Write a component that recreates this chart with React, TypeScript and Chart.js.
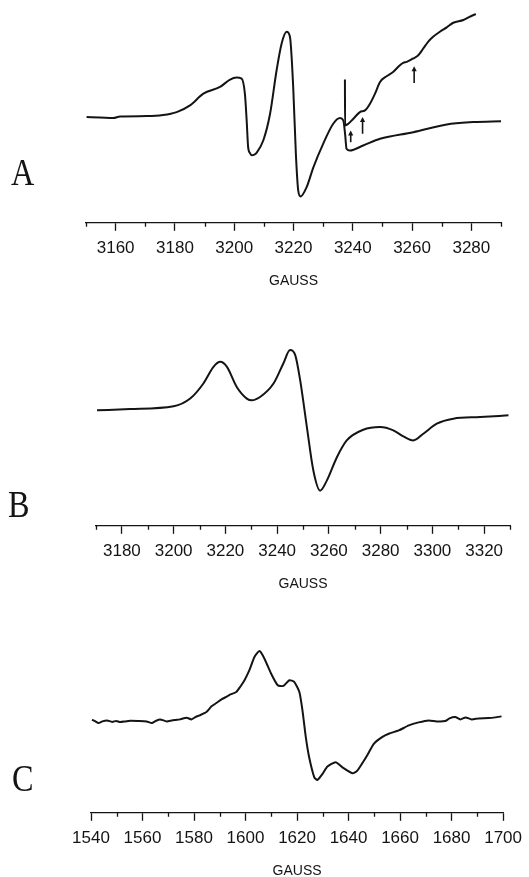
import React, { useEffect, useRef } from "react";
import { Chart, registerables } from "chart.js";

Chart.register(...registerables);

// ---------- Panel A ----------
const majorTicksA = [3160, 3180, 3200, 3220, 3240, 3260, 3280];
const minorTicksA = [3150, 3170, 3190, 3210, 3230, 3250, 3270, 3290];
const fieldA = [
  3150.2, 3154.7, 3159.2, 3161.5, 3170.5, 3176, 3180.6, 3185.1, 3189.6, 3195.2,
  3198.6, 3200.8, 3202.5, 3203.6, 3204.2, 3204.7, 3205.3, 3205.9, 3206.6, 3207.6,
  3209.8, 3212.1, 3214.3, 3216.0, 3217.7, 3218.8, 3219.9, 3220.8, 3221.6, 3222.4,
  3224.4, 3226.7, 3230.0, 3233.4, 3235.7, 3236.8, 3237.4, 3237.9, 3239.0, 3243.5,
  3249.2, 3260.4, 3271.7, 3280.6, 3290.2,
];
const signalA = [
  0.3, 0, -0.7, 1, 1.3, 2.3, 5.3, 12, 23.7, 30.3,
  37.7, 39.7, 38.7, 23.7, -3, -29.7, -35.5, -37.6, -37.3, -35,
  -23, 3.7, 47, 73.7, 85.3, 80.3, 30.3, -36.3, -73, -78.7,
  -69.7, -49.7, -26.3, -6.3, -0.7, -3, -16.3, -31.3, -33, -28,
  -21.3, -14.7, -7, -4.7, -3.7,
];
const fieldA2 = [
  3237.35, 3237.4, 3238.5, 3240.2, 3242.4, 3244.1, 3245.8, 3247.5, 3249.2, 3251.4,
  3253.6, 3255.9, 3257.0, 3258.2, 3260.4, 3262.1, 3263.8, 3265.4, 3267.1, 3269.4,
  3271.7, 3273.9, 3277.3, 3279.2, 3281.5,
];
const signalA2 = [
  37.7, -8, -6.3, -1.3, 5.3, 7, 13.7, 23.7, 35.3, 41,
  45.3, 52, 54.3, 55.3, 58.7, 62, 68.7, 75.3, 80.3, 85.3,
  89.7, 94.3, 97, 100, 103,
];
// arrow annotations: field, tail value, head value
const arrowFieldA = [3239.3, 3243.3, 3260.7];
const arrowTailA = [-24.7, -16.3, 34.3];
const arrowHeadA = [-13, 0.3, 51];

// ---------- Panel B ----------
const majorTicksB = [3180, 3200, 3220, 3240, 3260, 3280, 3300, 3320];
const minorTicksB = [3170, 3190, 3210, 3230, 3250, 3270, 3290, 3310, 3330];
const fieldB = [
  3170.4, 3183.2, 3200, 3206.4, 3211.5, 3215.4, 3218.0, 3220.6, 3224.4, 3228.3,
  3230.2, 3233.4, 3238.6, 3242.4, 3245.0, 3247.0, 3248.9, 3251.5, 3254.0, 3256.6,
  3259.2, 3263.1, 3266.9, 3273.3, 3279.8, 3284.9, 3288.8, 3292.6, 3296.5, 3301.7,
  3308.1, 3318.4, 3329.4,
];
const signalB = [
  0, 1.3, 4, 11.7, 26.7, 43.3, 48.3, 43.3, 23.3, 11.7,
  10, 13.3, 26.7, 46.7, 60, 55, 30, -16.7, -60, -80,
  -70, -46.7, -30, -19.3, -16.7, -20, -26, -30, -23.3, -13.3,
  -8.3, -6.7, -5,
];

// ---------- Panel C ----------
const majorTicksC = [1540, 1560, 1580, 1600, 1620, 1640, 1660, 1680, 1700];
const minorTicksC = [1550, 1570, 1590, 1610, 1630, 1650, 1670, 1690];
const fieldC = [
  1540.4, 1541.7, 1542.9, 1544.4, 1546.2, 1548.2, 1549.8, 1551.3, 1553.3, 1555.2,
  1558.3, 1561.6, 1563.6, 1565.2, 1566.8, 1569.4, 1571.4, 1573, 1574.5, 1577.1,
  1579.0, 1580.7, 1582.2, 1584.8, 1586.8, 1588.7, 1590.7, 1592.5, 1593.8, 1596.4,
  1598.1, 1599.6, 1601.5, 1603.5, 1605.4, 1607.3, 1609.9, 1612.5, 1614.7, 1617.0,
  1618.9, 1620.9, 1622.1, 1623.4, 1624.7, 1626.7, 1627.9, 1629.9, 1631.8, 1635.0,
  1637.6, 1641.5, 1643.4, 1646.0, 1647.2, 1649.8, 1653.0, 1655.6, 1659.5, 1663.4,
  1667.2, 1671.1, 1674.2, 1677.5, 1679.2, 1681.4, 1683.4, 1685.4, 1687.8, 1690.4,
  1694.3, 1697, 1699.4,
];
const signalC = [
  0.7, -1, -2.7, -1, 0, -1.5, -0.5, -1.7, -1, -0.3,
  -0.5, -1, -2.7, -0.5, 1, -1, 0, 0.5, 1, 2.7,
  1, 3.5, 5, 8.3, 14, 17.3, 21, 23.3, 25.5, 28.3,
  34, 40, 50, 63.3, 69, 61.7, 46.7, 35, 34.3, 40,
  38.3, 28.3, 10, -16.7, -36.7, -56.7, -59.3, -53.3, -46, -41.7,
  -46.7, -52.7, -50, -40, -35, -23.3, -16.7, -13.3, -10, -5,
  -2, 0, -1, -0.7, 2, 3.3, 1, 3, 1, 2,
  2.3, 3, 4,
];

const INK = "#141414";
const SANS = "'Liberation Sans', Arial, Helvetica, sans-serif";

type PanelDef = {
  top: number;
  height: number;
  padTop: number;
  padLeft: number;
  padRight: number;
  xMin: number;
  xMax: number;
  yMin: number;
  yMax: number;
  majors: number[];
  minors: number[];
  series: { x: number[]; y: number[]; mode: "monotone" | "default"; tension: number }[];
  arrows?: { x: number[]; tail: number[]; head: number[] };
};

function makeXY(x: number[], y: number[]) {
  return x.map((v, i) => ({ x: v, y: y[i] }));
}

const minorTickPlugin = {
  id: "minorTicks",
  afterDraw(chart: any, _args: any, opts: any) {
    const xs = chart.scales.x;
    const ctx = chart.ctx;
    ctx.save();
    ctx.strokeStyle = INK;
    ctx.lineWidth = 1.3;
    ctx.beginPath();
    (opts.values || []).forEach((v: number) => {
      const px = Math.round(xs.getPixelForValue(v)) + 0.5;
      ctx.moveTo(px, xs.top);
      ctx.lineTo(px, xs.top + 4);
    });
    ctx.stroke();

    const arrows = opts.arrows;
    if (arrows) {
      const ys = chart.scales.y;
      ctx.lineWidth = 1.6;
      ctx.fillStyle = INK;
      arrows.x.forEach((v: number, i: number) => {
        const px = xs.getPixelForValue(v);
        const pt = ys.getPixelForValue(arrows.tail[i]);
        const ph = ys.getPixelForValue(arrows.head[i]);
        ctx.beginPath();
        ctx.moveTo(px, pt);
        ctx.lineTo(px, ph + 3);
        ctx.stroke();
        ctx.beginPath();
        ctx.moveTo(px, ph);
        ctx.lineTo(px - 2.6, ph + 5);
        ctx.lineTo(px + 2.6, ph + 5);
        ctx.closePath();
        ctx.fill();
      });
    }
    ctx.restore();
  },
};

function Panel({ def }: { def: PanelDef }) {
  const ref = useRef<HTMLCanvasElement | null>(null);
  useEffect(() => {
    if (!ref.current) return;
    const majorSet = new Set(def.majors);
    const allTicks = [...def.majors, ...def.minors].sort((a, b) => a - b);
    const chart = new Chart(ref.current, {
      type: "line",
      data: {
        datasets: def.series.map((s) => ({
          data: makeXY(s.x, s.y),
          borderColor: INK,
          borderWidth: 2,
          pointRadius: 0,
          fill: false,
          tension: s.tension,
          cubicInterpolationMode: s.mode,
        })),
      },
      options: {
        animation: false,
        responsive: false,
        maintainAspectRatio: false,
        events: [],
        layout: {
          padding: { top: def.padTop, left: def.padLeft, right: def.padRight, bottom: 0 },
        },
        plugins: {
          legend: { display: false },
          tooltip: { enabled: false },
          minorTicks: { values: def.minors, arrows: def.arrows },
        } as any,
        scales: {
          x: {
            type: "linear",
            min: def.xMin,
            max: def.xMax,
            offset: false,
            afterBuildTicks: (scale: any) => {
              scale.ticks = allTicks.map((v) => ({ value: v }));
            },
            ticks: {
              autoSkip: false,
              maxRotation: 0,
              minRotation: 0,
              padding: 7,
              color: INK,
              font: { family: SANS, size: 17 },
              callback: (value: any) => (majorSet.has(Number(value)) ? String(value) : ""),
            },
            grid: {
              drawOnChartArea: false,
              drawTicks: true,
              tickLength: 8,
              tickWidth: 1.3,
              tickColor: (ctx: any) =>
                ctx.tick && majorSet.has(ctx.tick.value) ? INK : "rgba(0,0,0,0)",
            },
            border: { display: true, color: INK, width: 1.3 },
            title: {
              display: true,
              text: "GAUSS",
              color: INK,
              font: { family: SANS, size: 14 },
              padding: { top: 8, bottom: 0 },
            },
          },
          y: { display: false, min: def.yMin, max: def.yMax },
        },
      },
      plugins: [minorTickPlugin],
    } as any);
    return () => chart.destroy();
  }, [def]);
  return (
    <canvas
      ref={ref}
      width={529}
      height={def.height}
      style={{ position: "absolute", left: 0, top: def.top, width: 529, height: def.height, display: "block" }}
    />
  );
}

const panels: PanelDef[] = [
  {
    top: 0, height: 290, padTop: 10, padLeft: 86, padRight: 28,
    xMin: 3150, xMax: 3290, yMin: -105, yMax: 107,
    majors: majorTicksA, minors: minorTicksA,
    series: [
      { x: fieldA, y: signalA, mode: "monotone", tension: 0.4 },
      { x: fieldA2, y: signalA2, mode: "monotone", tension: 0.4 },
    ],
    arrows: { x: arrowFieldA, tail: arrowTailA, head: arrowHeadA },
  },
  {
    top: 300, height: 293, padTop: 30, padLeft: 96, padRight: 19,
    xMin: 3170, xMax: 3330, yMin: -115, yMax: 80,
    majors: majorTicksB, minors: minorTicksB,
    series: [{ x: fieldB, y: signalB, mode: "monotone", tension: 0.4 }],
  },
  {
    top: 612, height: 268, padTop: 18, padLeft: 91, padRight: 24,
    xMin: 1540, xMax: 1700, yMin: -92, yMax: 90,
    majors: majorTicksC, minors: minorTicksC,
    series: [{ x: fieldC, y: signalC, mode: "default", tension: 0.2 }],
  },
];

const letters = [
  { text: "A", left: 11, top: 152 },
  { text: "B", left: 8, top: 484 },
  { text: "C", left: 12, top: 758 },
];

export default function App() {
  return (
    <div
      style={{
        position: "absolute", left: 0, top: 0, width: 529, height: 877,
        overflow: "hidden", background: "#fff",
      }}
    >
      {panels.map((p, i) => (
        <Panel key={i} def={p} />
      ))}
      {letters.map((l) => (
        <div
          key={l.text}
          style={{
            position: "absolute", left: l.left, top: l.top,
            fontFamily: "'Liberation Serif', 'Times New Roman', serif",
            fontSize: 38, lineHeight: "40px", color: INK,
            transform: "scaleX(0.85)", transformOrigin: "left top",
          }}
        >
          {l.text}
        </div>
      ))}
    </div>
  );
}
